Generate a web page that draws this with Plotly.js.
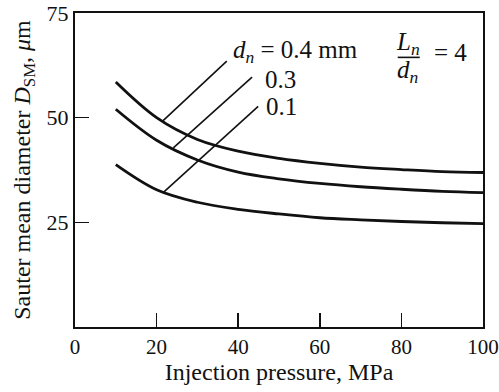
<!DOCTYPE html>
<html>
<head>
<meta charset="utf-8">
<script src="https://cdn.plot.ly/plotly-3.0.1.min.js"></script>
<style>html,body{margin:0;padding:0;background:#fff;}#chart{width:499px;height:392px;}</style>
</head>
<body>
<div id="chart"></div>
<script>
// Injection pressure (MPa)
const pressure = [10, 20, 30, 40, 50, 60, 70, 80, 90, 100];
// Sauter mean diameter (μm) for nozzle diameters
const d04 = [58.5, 50.0, 44.8, 42.0, 40.3, 39.1, 38.2, 37.6, 37.1, 36.9];
const d03 = [52.0, 44.6, 39.9, 37.0, 35.4, 34.3, 33.5, 32.9, 32.4, 32.1];
const d01 = [38.8, 32.8, 29.8, 28.1, 27.0, 26.1, 25.6, 25.2, 24.9, 24.7];
const seriesLabels = ["<i>d</i><sub><i>n</i></sub> = 0.4 mm", "0.3", "0.1"];
// leader lines [x0, x1], [y0, y1]
const leader04x = [21.6, 37.2], leader04y = [49.3, 63.5];
const leader03x = [24.1, 43.4], leader03y = [42.8, 59.7];
const leader01x = [21.6, 44.9], leader01y = [32.1, 52.7];
const labelX = [38.3, 46.0, 46.3];
const labelY = [65.8, 59.0, 52.6];
const xTicks = [0, 20, 40, 60, 80, 100];
const yTicks = [25, 50, 75];

const font = "Liberation Serif, Times New Roman, serif";
const curve = (x, y) => ({x: x, y: y, mode: "lines", type: "scatter",
  line: {color: "#111", width: 2.8, shape: "spline", smoothing: 1}, hoverinfo: "skip"});
const lead = (x, y) => ({x: x, y: y, mode: "lines", type: "scatter",
  line: {color: "#111", width: 1.6}, hoverinfo: "skip"});

const data = [
  curve(pressure, d04), curve(pressure, d03), curve(pressure, d01),
  lead(leader04x, leader04y), lead(leader03x, leader03y), lead(leader01x, leader01y)
];

const annFont = {family: font, size: 25, color: "#111"};
const annotations = seriesLabels.map((t, i) => ({
  x: labelX[i], y: labelY[i], xref: "x", yref: "y", text: t, showarrow: false,
  xanchor: "left", yanchor: "middle", font: annFont
}));
annotations.push(
  {x: 81.7, y: 67.8, xref: "x", yref: "y", text: "<i>L</i><sub><i>n</i></sub>", showarrow: false,
   xanchor: "center", yanchor: "middle", font: annFont},
  {x: 81.7, y: 61.0, xref: "x", yref: "y", text: "<i>d</i><sub><i>n</i></sub>", showarrow: false,
   xanchor: "center", yanchor: "middle", font: annFont},
  {x: 87.4, y: 65.5, xref: "x", yref: "y", text: "= 4", showarrow: false,
   xanchor: "left", yanchor: "middle", font: annFont}
);

const layout = {
  width: 499, height: 392,
  margin: {l: 75, r: 16, t: 13, b: 65},
  paper_bgcolor: "#fff", plot_bgcolor: "#fff",
  showlegend: false,
  font: {family: font, color: "#111"},
  xaxis: {
    range: [0, 100], tickvals: xTicks, ticks: "inside", ticklen: 14, tickwidth: 1.6, tickcolor: "#111",
    showline: true, linecolor: "#111", linewidth: 2, mirror: true, showgrid: false, zeroline: false,
    ticklabeloverflow: "allow",
    tickfont: {family: font, size: 21, color: "#111"},
    title: {text: "Injection pressure, MPa", font: {family: font, size: 24, color: "#111"}, standoff: 4}
  },
  yaxis: {
    range: [0, 75], tickvals: yTicks, ticks: "inside", ticklen: 14, tickwidth: 1.6, tickcolor: "#111",
    showline: true, linecolor: "#111", linewidth: 2, mirror: true, showgrid: false, zeroline: false,
    ticklabeloverflow: "allow",
    tickfont: {family: font, size: 22, color: "#111"},
    title: {text: "Sauter mean diameter <i>D</i><sub>SM</sub>, <i>μ</i>m", font: {family: font, size: 24, color: "#111"}, standoff: 9}
  },
  shapes: [
    {type: "line", xref: "x", yref: "y", x0: 79.1, x1: 84.5, y0: 64.4, y1: 64.4, line: {color: "#111", width: 1.6}}
  ],
  annotations: annotations
};

Plotly.newPlot("chart", data, layout, {displayModeBar: false, staticPlot: true});
</script>
</body>
</html>
